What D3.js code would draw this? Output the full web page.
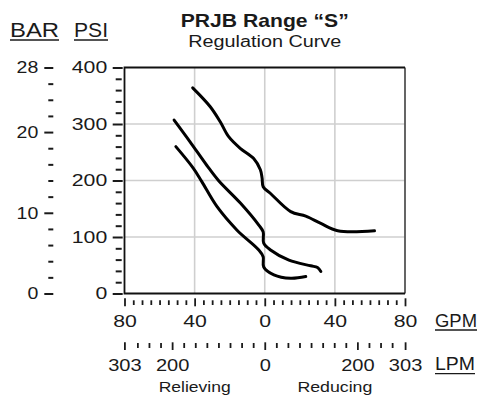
<!DOCTYPE html>
<html>
<head>
<meta charset="utf-8">
<script src="https://cdn.jsdelivr.net/npm/d3@7"></script>
<style>
  html, body { margin: 0; padding: 0; background: #fff; }
  svg { display: block; }
  text { font-family: "Liberation Sans", Arial, Helvetica, sans-serif; fill: #1a1a1a; }
</style>
</head>
<body>
<svg id="chart" width="481" height="397"></svg>
<script>
// ---------- DATA ----------
const titleText = "PRJB Range \u201CS\u201D";
const subtitleText = "Regulation Curve";
const psiTicks = [0, 100, 200, 300, 400];
const barTicks = [0, 10, 20, 28];
const gpmTicks = [-80, -40, 0, 40, 80];
const lpmTicks = [-303, -200, 0, 200, 303];
const sideLabels = ["Relieving", "Reducing"];
const sideGpm = [-40, 40];

// upper regulation curve
const upperGpm = [-41.1, -31.2, -25.4, -20.7, -14.0, -6.3, -2.5, -1.5, -0.9, 3.3, 14.8, 23.4, 32.0, 41.6, 62.6];
const upperPsi = [364, 331, 304, 278, 257, 239, 219, 204, 189, 177, 145, 137, 124, 111, 111];
// middle regulation curve
const middleGpm = [-51.7, -42.7, -33.1, -26.4, -13.9, -3.4, -0.9, -0.6, 3.3, 13.8, 26.2, 30.1, 32.0];
const middlePsi = [307, 269, 227, 200, 160, 121, 109, 89, 77, 59, 49, 46, 39];
// lower regulation curve
const lowerGpm = [-50.7, -40.8, -35.9, -27.3, -15.8, -3.4, -0.9, -0.6, 5.2, 14.8, 23.4];
const lowerPsi = [260, 222, 198, 154, 112, 77, 65, 47, 33, 27, 30];

// ---------- SETUP ----------
const svg = d3.select("#chart");
const x = d3.scaleLinear().domain([-80, 80]).range([124.5, 405]);
const y = d3.scaleLinear().domain([0, 400]).range([293.5, 67.5]);
const yBar = d3.scaleLinear().domain([0, 28]).range([y(0), y(400)]);
const GAL_TO_L = 3.785;
const xL = d3.scaleLinear().domain([-80 * GAL_TO_L, 80 * GAL_TO_L]).range(x.range());

const DIGIT_SX = 1.25;

function stretchTicks(g, sx, anchorShift) {
  g.selectAll(".tick text").each(function () {
    const t = d3.select(this);
    const ox = +t.attr("x") || 0;
    t.attr("x", (ox + (anchorShift || 0)) / sx).attr("transform", `scale(${sx},1)`);
  });
}

// ---------- GRID ----------
const grid = svg.append("g");
grid.selectAll("line.v").data([-40, 0, 40]).join("line")
  .attr("x1", d => x(d)).attr("x2", d => x(d))
  .attr("y1", y(400)).attr("y2", y(0))
  .attr("stroke", "#cfcfcf").attr("stroke-width", 1.6);
grid.selectAll("line.h").data([100, 200, 300]).join("line")
  .attr("x1", x(-80)).attr("x2", x(80))
  .attr("y1", d => y(d)).attr("y2", d => y(d))
  .attr("stroke", "#cfcfcf").attr("stroke-width", 1.6);

// box
svg.append("line").attr("x1", x(80)).attr("x2", x(80)).attr("y1", y(400)).attr("y2", y(0))
  .attr("stroke", "#555").attr("stroke-width", 1.8);
svg.append("path")
  .attr("d", `M${x(80)},${y(400)} H${x(-80)} V${y(0)} H${x(80)}`)
  .attr("fill", "none").attr("stroke", "#111").attr("stroke-width", 1.8);

// ---------- CURVES ----------
const line = d3.line().x(d => x(d[0])).y(d => y(d[1])).curve(d3.curveCatmullRom.alpha(0.5));
const curves = [
  d3.zip(upperGpm, upperPsi),
  d3.zip(middleGpm, middlePsi),
  d3.zip(lowerGpm, lowerPsi)
];
svg.append("g").selectAll("path").data(curves).join("path")
  .attr("d", line)
  .attr("fill", "none").attr("stroke", "#000").attr("stroke-width", 3)
  .attr("stroke-linecap", "round").attr("stroke-linejoin", "round");

// ---------- PSI AXIS ----------
const psiMinor = d3.range(0, 401, 20).filter(v => v % 100 !== 0);
const gPsiMinor = svg.append("g").attr("transform", "translate(121.7,0)")
  .call(d3.axisLeft(y).tickValues(psiMinor).tickSize(6).tickFormat(""));
const gPsi = svg.append("g").attr("transform", "translate(122.7,0)")
  .call(d3.axisLeft(y).tickValues(psiTicks).tickSize(10).tickPadding(5.5));
[gPsiMinor, gPsi].forEach(g => {
  g.select(".domain").remove();
  g.selectAll(".tick line").attr("stroke", "#1a1a1a").attr("stroke-width", 2);
});
gPsi.selectAll(".tick text").attr("font-size", 17).attr("fill", "#1a1a1a");
stretchTicks(gPsi, DIGIT_SX);

// ---------- BAR AXIS ----------
const barMinor = d3.range(0, 29, 2).filter(v => v % 10 !== 0 && v !== 28);
const gBarMinor = svg.append("g").attr("transform", "translate(53.3,0)")
  .call(d3.axisLeft(yBar).tickValues(barMinor).tickSize(5).tickFormat(""));
const gBar = svg.append("g").attr("transform", "translate(53.3,0)")
  .call(d3.axisLeft(yBar).tickValues(barTicks).tickSize(9).tickPadding(6));
[gBarMinor, gBar].forEach(g => {
  g.select(".domain").remove();
  g.selectAll(".tick line").attr("stroke", "#1a1a1a").attr("stroke-width", 2);
});
gBar.selectAll(".tick text").attr("font-size", 17).attr("fill", "#1a1a1a");
stretchTicks(gBar, 1.15);

// ---------- GPM AXIS ----------
const gpmMinor = d3.range(-80, 81, 5).filter(v => v % 40 !== 0);
const gGpmMinor = svg.append("g").attr("transform", "translate(0,300.3)")
  .call(d3.axisBottom(x).tickValues(gpmMinor).tickSize(4.7).tickFormat(""));
const gGpm = svg.append("g").attr("transform", "translate(0,298.3)")
  .call(d3.axisBottom(x).tickValues(gpmTicks).tickSize(8).tickFormat(d => Math.abs(d)));
[gGpmMinor, gGpm].forEach(g => {
  g.select(".domain").remove();
  g.selectAll(".tick line").attr("stroke", "#1a1a1a").attr("stroke-width", 1.8);
});
gGpm.selectAll(".tick text").attr("font-size", 17).attr("y", 29).attr("dy", null).attr("fill", "#1a1a1a");
stretchTicks(gGpm, DIGIT_SX);

// ---------- LPM AXIS ----------
const lpmMinor = d3.range(-300, 301, 25).filter(v => v % 200 !== 0 && Math.abs(v) < 300);
const gLpmMinor = svg.append("g").attr("transform", "translate(0,343)")
  .call(d3.axisBottom(xL).tickValues(lpmMinor).tickSize(5).tickFormat(""));
const gLpm = svg.append("g").attr("transform", "translate(0,342.3)")
  .call(d3.axisBottom(xL).tickValues(lpmTicks).tickSize(7.7).tickFormat(d => Math.abs(d)));
[gLpmMinor, gLpm].forEach(g => {
  g.select(".domain").remove();
  g.selectAll(".tick line").attr("stroke", "#1a1a1a").attr("stroke-width", 1.8);
});
gLpm.selectAll(".tick text").attr("font-size", 17).attr("y", 28.7).attr("dy", null).attr("fill", "#1a1a1a");
stretchTicks(gLpm, 1.18);

// ---------- TEXT ----------
function underlinedLabel(txt, lx, by, size, width) {
  const t = svg.append("text").attr("x", lx).attr("y", by).attr("font-size", size).text(txt);
  if (width) t.attr("textLength", width).attr("lengthAdjust", "spacingAndGlyphs");
  const w = width || t.node().getComputedTextLength();
  svg.append("line").attr("x1", lx).attr("x2", lx + w)
    .attr("y1", by + 3.3).attr("y2", by + 3.3)
    .attr("stroke", "#1a1a1a").attr("stroke-width", 1.4);
}
underlinedLabel("BAR", 10, 36.7, 21, 49);
underlinedLabel("PSI", 74, 36.7, 21, 34);
underlinedLabel("GPM", 435, 326.7, 18, 42);
underlinedLabel("LPM", 435, 370.3, 18, 40);

svg.append("text").attr("x", x(0)).attr("y", 26.7).attr("text-anchor", "middle")
  .attr("font-size", 18.6).attr("font-weight", "bold")
  .attr("textLength", 168).attr("lengthAdjust", "spacingAndGlyphs").text(titleText);
svg.append("text").attr("x", x(0)).attr("y", 46.7).attr("text-anchor", "middle")
  .attr("font-size", 16)
  .attr("textLength", 153).attr("lengthAdjust", "spacingAndGlyphs").text(subtitleText);

svg.selectAll("text.side").data(sideLabels).join("text")
  .attr("class", "side")
  .attr("x", (d, i) => x(sideGpm[i])).attr("y", 392.3).attr("text-anchor", "middle")
  .attr("font-size", 15)
  .attr("textLength", (d, i) => i === 0 ? 72 : 75).attr("lengthAdjust", "spacingAndGlyphs")
  .text(d => d);
</script>
</body>
</html>
